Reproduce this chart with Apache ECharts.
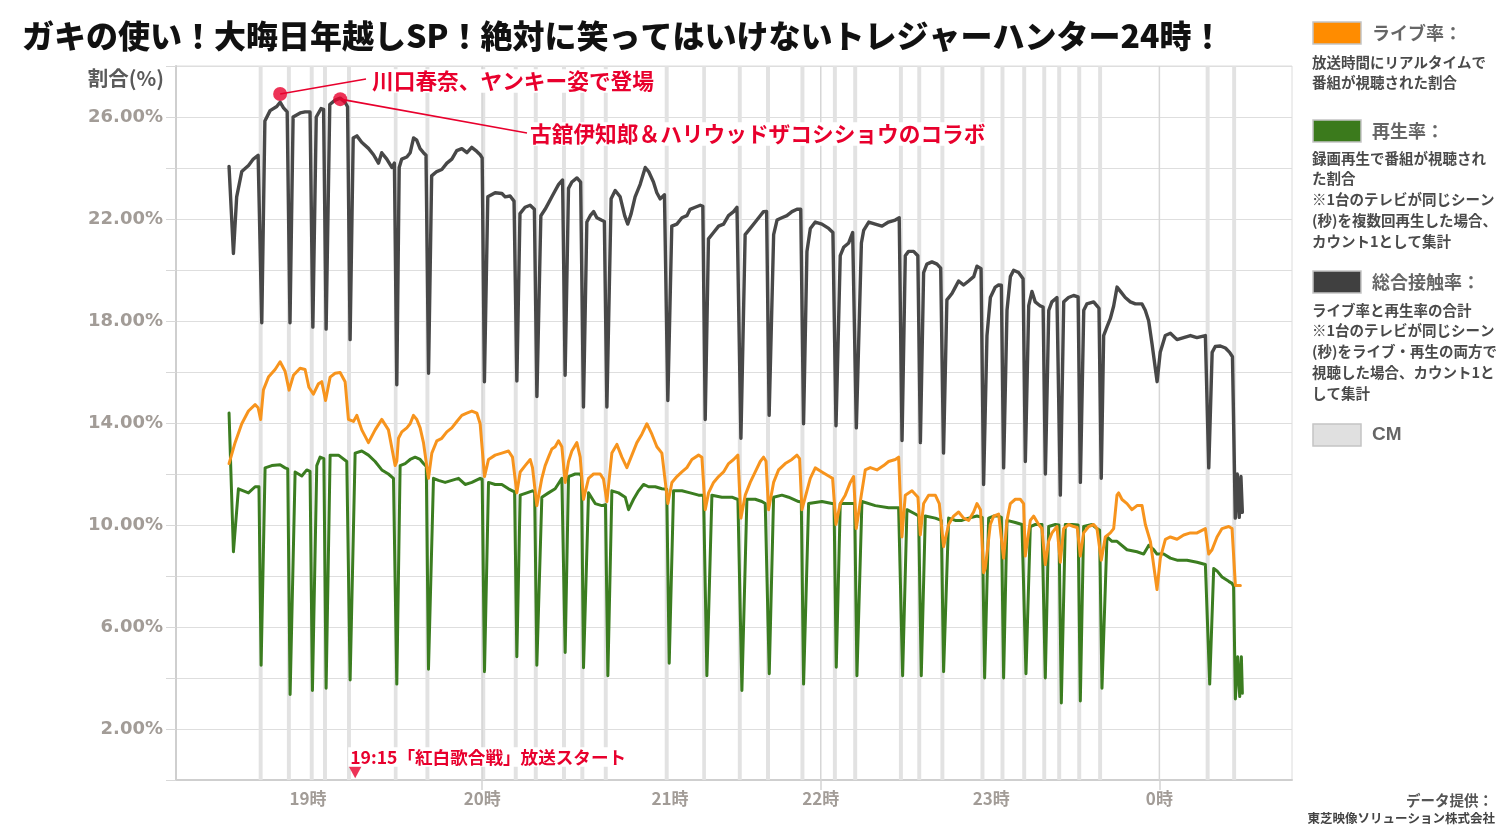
<!DOCTYPE html>
<html>
<head>
<meta charset="utf-8">
<script src="https://cdn.jsdelivr.net/npm/echarts@6.0.0/dist/echarts.min.js"></script>
<style>
html,body{margin:0;padding:0;background:#fff;}
#chart{width:1500px;height:831px;}
</style>
</head>
<body>
<div id="chart"></div>
<script>
// Time axis: minutes after 18:00. Values: rate in %.
const totalRate = [
[30.3,24.06],[31.85,20.65],[33.0,22.87],[34.8,23.86],[37.2,24.1],[38.9,24.35],[40.6,24.5],
[41.9,17.93],[43.0,25.84],[44.85,26.25],[47.2,26.41],[48.4,26.58],[49.6,26.36],[50.9,26.2],
[51.9,17.93],[53.0,26.0],[55.5,26.16],[57.25,26.2],[59.0,26.2],
[60.0,17.76],[61.2,26.0],[62.9,26.33],[63.8,26.3],
[64.7,17.68],[66.0,26.49],[67.9,26.66],[69.7,26.74],[71.4,26.58],[72.3,26.4],
[73.2,17.27],[74.3,25.18],[75.6,25.26],[77.3,25.01],[79.7,24.77],[81.5,24.52],[83.25,24.19],[84.4,24.6],[86.2,24.35],[88.0,24.02],[88.9,24.19],
[89.75,15.5],[90.6,24.02],[91.5,24.35],[93.3,24.43],[94.5,24.6],[95.7,25.18],[96.8,25.09],[98.0,24.76],[99.2,24.6],[100.1,24.5],
[101.0,15.95],[102.1,23.69],[103.9,23.86],[105.7,23.94],[107.5,24.19],[109.25,24.35],[111.0,24.68],[112.8,24.76],[114.6,24.6],[116.3,24.81],[118.1,24.65],[119.3,24.52],[120.0,24.4],
[120.8,15.62],[122.0,22.87],[124.6,23.03],[127.0,23.0],[128.15,22.87],[129.9,22.9],[131.3,22.7],
[132.3,15.65],[133.4,22.21],[135.2,22.46],[137.0,22.54],[138.5,22.38],
[139.4,15.04],[140.8,22.13],[142.3,22.38],[143.5,22.62],[144.7,22.87],[145.9,23.12],[147.1,23.36],[148.5,23.53],
[149.4,15.87],[150.6,23.2],[151.8,23.45],[153.6,23.61],[154.9,23.45],
[155.9,14.63],[157.1,21.88],[158.3,22.13],[159.5,22.29],[160.65,22.05],[162.2,21.96],[163.3,21.9],
[164.2,14.63],[165.7,22.79],[167.15,23.12],[168.9,22.87],[170.5,22.13],[171.6,21.8],[172.8,22.21],[174.2,22.87],[176.0,23.36],[177.8,24.02],[179.0,23.86],[180.7,23.45],[181.9,23.03],[183.1,22.79],[184.6,22.95],
[185.8,14.88],[187.2,21.72],[189.0,21.8],[190.8,22.05],[192.55,22.13],[193.7,22.38],[195.5,22.46],[197.3,22.54],[198.2,22.5],
[199.05,14.14],[200.2,21.22],[202.0,21.47],[203.8,21.72],[205.55,21.8],[207.3,22.13],[209.1,22.29],[210.3,22.46],[210.9,22.4],
[211.7,13.4],[213.2,21.39],[215.0,21.63],[216.8,21.88],[218.55,22.13],[219.7,22.29],[220.8,22.3],
[221.7,14.3],[223.3,21.39],[224.5,21.96],[226.2,22.05],[228.0,22.13],[229.8,22.29],[231.55,22.38],[232.9,22.38],
[233.9,13.97],[235.1,20.73],[236.3,21.63],[238.05,21.88],[240.4,21.8],[242.8,21.63],[244.3,21.47],
[245.4,13.89],[246.9,20.56],[248.1,20.89],[249.9,21.06],[251.3,21.47],[251.8,21.4],
[252.6,13.81],[254.4,21.06],[255.2,21.55],[257.0,21.88],[259.3,21.8],[261.7,21.72],[264.0,21.88],[266.4,21.96],[267.8,22.05],
[268.8,13.31],[269.95,20.56],[271.1,20.73],[272.9,20.73],[274.4,20.56],
[275.3,13.23],[276.45,19.9],[277.6,20.23],[279.4,20.32],[281.2,20.23],[282.5,20.07],
[283.5,12.82],[284.7,18.83],[286.5,19.08],[287.7,19.33],[288.85,19.57],[290.6,19.41],[292.4,19.57],[294.2,19.74],[295.35,20.15],[296.8,20.05],
[297.7,11.59],[298.9,17.43],[300.1,18.92],[301.85,19.33],[303.0,19.41],[304.0,19.4],
[304.8,12.24],[306.0,18.42],[307.2,19.74],[308.35,19.99],[310.1,19.9],[311.7,19.66],
[312.5,12.49],[313.7,18.6],[314.85,19.16],[316.0,18.75],[317.8,18.59],[318.8,18.55],
[319.6,12.0],[320.8,18.42],[321.9,18.75],[323.7,18.92],[324.2,18.9],
[324.9,11.17],[326.1,18.75],[327.8,18.92],[329.6,19.0],[331.2,18.95],
[332.0,11.67],[333.2,18.42],[334.3,18.67],[336.7,18.75],[337.9,18.59],[338.6,18.5],
[339.4,11.83],[340.25,17.43],[341.4,17.76],[342.6,18.09],[343.8,18.59],[345.0,19.33],[346.2,19.16],[347.9,18.92],[349.7,18.75],[351.5,18.67],[353.85,18.67],[355.0,18.42],[356.2,18.01],[357.4,17.1],
[359.2,15.62],[360.3,16.77],[362.1,17.43],[363.9,17.52],[366.25,17.27],[368.6,17.35],[371.0,17.43],[373.3,17.35],[376.3,17.43],[376.9,17.4],
[377.5,12.24],[378.7,16.77],[379.8,17.0],[381.6,17.02],[383.4,16.94],[384.9,16.77],[385.9,16.6],
[386.9,10.27],[387.6,12.0],[388.3,10.3],[388.9,11.9],[389.4,10.5]
];

const liveRate = [
[30.3,12.41],[32.44,13.23],[34.8,13.97],[37.17,14.47],[39.53,14.72],[40.6,14.6],[41.5,14.14],[42.48,15.3],[44.26,15.8],[46.62,16.1],[48.39,16.4],[50.16,16.03],[51.58,15.29],[53.12,15.87],[55.48,16.15],[57.25,16.1],[58.6,15.4],[60.2,15.13],[61.98,15.54],[63.16,15.62],[64.5,14.88],[66.12,15.8],[67.89,15.95],[69.66,15.98],[71.43,15.62],[72.61,14.14],[74.39,14.06],[75.57,14.3],[77.34,13.73],[79.7,13.23],[82.07,13.73],[84.43,14.14],[86.79,13.73],[89.16,12.33],
[89.75,12.5],[90.34,13.4],[91.52,13.65],[93.3,13.81],[94.48,13.97],[95.66,14.3],[96.84,14.14],[98.02,13.81],[99.2,13.23],[100.98,11.83],[102.16,12.82],[103.93,13.3],[105.7,13.4],[107.47,13.65],[109.25,13.81],[111.02,14.06],[112.79,14.3],[114.56,14.39],[116.34,14.47],[118.11,14.39],[119.29,13.97],[120.83,11.9],[122.25,12.57],[124.61,12.74],[126.97,12.82],[129.33,12.9],[130.75,12.66],[132.29,11.26],[133.47,12.08],[135.24,12.33],[137.02,12.57],[137.84,12.25],[139.38,10.76],[141.15,11.83],[142.33,12.33],[143.51,12.66],[144.7,12.98],[145.88,13.07],[147.06,13.3],[148.24,13.07],[149.42,11.67],[150.6,12.49],[151.79,12.9],[153.56,13.23],[154.74,12.66],[155.92,11.0],
[157.7,11.83],[159.47,12.0],[161.83,12.0],[163.0,11.8],[164.2,10.92],[165.97,12.82],[167.74,13.16],[169.51,12.66],[171.28,12.25],[173.06,12.74],[174.83,13.23],[176.6,13.56],[178.37,13.97],[180.15,13.56],[181.92,13.07],[183.69,12.82],[185.82,10.84],[187.24,11.67],[189.01,11.9],[190.78,12.08],[192.55,12.25],[194.33,12.57],[196.69,12.74],[197.87,12.66],[199.05,10.6],[200.23,11.26],[202.01,11.67],[203.78,11.9],[205.55,12.08],[207.33,12.41],[209.1,12.57],[210.63,12.74],[211.7,10.27],[213.23,11.17],[215.0,11.67],[216.78,12.08],[218.55,12.49],[219.73,12.66],[220.6,12.5],
[221.51,10.6],[223.28,11.67],[225.05,12.16],[227.41,12.41],[229.78,12.57],[231.55,12.74],[232.5,12.6],[233.32,10.6],[235.1,11.34],[236.28,11.83],[238.05,12.24],[240.41,12.08],[242.78,11.92],[244.19,11.83],[245.38,10.02],[246.91,10.84],[248.68,11.17],[250.46,11.67],[251.64,11.9],[252.58,9.86],[254.36,11.17],[255.77,12.16],[257.55,12.25],[259.91,12.16],[262.27,12.33],[264.04,12.49],[266.41,12.57],[267.59,12.66],[268.77,9.53],[269.95,11.17],[272.32,11.34],[274.44,11.09],[275.27,9.61],[276.45,10.84],[278.22,11.17],[280.59,11.17],[282.0,10.84],
[283.53,9.15],[285.31,10.02],[287.08,10.35],[288.85,10.51],[290.62,10.27],[292.4,10.18],[294.17,10.51],[295.35,10.84],[296.6,10.6],[297.71,8.13],[298.3,8.3],[300.08,10.02],[301.26,10.35],[303.03,10.43],[304.8,8.7],[305.99,10.18],[307.17,10.84],[308.94,11.01],[310.71,11.01],[311.89,10.84],[312.48,8.78],[314.26,10.18],[315.44,10.35],[317.21,10.02],[318.39,9.86],[319.57,8.45],[320.76,9.36],[321.94,9.69],[323.71,9.94],[324.89,8.54],[326.07,9.86],[327.84,10.02],[329.62,9.94],[330.9,9.9],[331.98,8.78],[333.16,9.69],[334.94,9.94],[336.71,10.02],[337.89,9.86],[339.42,8.62],[340.84,9.53],[342.61,9.69],[343.8,9.86],[344.98,11.17],
[345.57,11.26],[346.76,11.0],[348.53,10.84],[350.3,10.6],[352.07,10.76],[353.85,10.76],[355.03,10.02],[356.8,9.36],[359.16,7.47],[360.34,8.7],[362.12,9.44],[363.89,9.53],[366.25,9.44],[368.62,9.61],[370.98,9.69],[373.34,9.69],[376.3,9.86],[377.48,8.86],[378.66,9.03],[380.43,9.53],[382.2,9.86],[384.57,9.94],[385.75,9.86],[386.93,7.63],[388.7,7.63]
];

const playRate = [
[30.3,14.39],[31.85,8.95],[33.62,11.42],[35.39,11.34],[37.17,11.26],[39.53,11.5],[40.9,11.5],[41.66,4.5],[43.07,12.24],[45.44,12.33],[48.39,12.36],[50.16,12.24],[51.1,12.2],[51.94,3.35],[53.71,12.08],[56.07,11.92],[57.84,12.16],[59.0,12.1],[59.85,3.51],[61.39,12.33],[62.57,12.66],[63.9,12.6],[64.7,3.6],[66.12,12.74],[69.07,12.74],[72.02,12.49],[72.5,12.45],[73.21,3.92],[74.98,12.82],[77.34,12.9],[79.7,12.74],[82.07,12.49],[84.43,12.16],[86.79,12.0],[88.57,11.83],[89.75,3.76],
[90.93,12.33],[92.7,12.41],[94.48,12.57],[96.25,12.66],[98.02,12.57],[99.2,12.41],[100.2,12.3],[100.98,4.34],[102.75,11.83],[104.52,11.75],[106.88,11.67],[109.25,11.75],[111.61,11.83],[113.97,11.59],[116.34,11.67],[119.29,11.83],[120.0,11.8],[120.83,4.25],[122.25,11.67],[124.61,11.59],[126.97,11.59],[129.33,11.42],[130.75,11.34],[131.5,11.3],[132.29,4.83],[133.47,11.17],[135.83,11.26],[137.84,11.34],[138.6,11.3],[139.38,4.5],[141.15,11.09],[143.51,11.26],[145.88,11.42],[148.24,11.83],[148.7,11.8],[149.42,5.0],[150.6,11.9],[152.97,12.0],[154.74,12.0],[155.2,11.9],[155.92,4.4],
[157.7,11.26],[160.06,10.84],[162.42,10.76],[163.7,10.8],[164.55,4.09],[165.97,11.34],[168.33,11.26],[170.7,11.09],[171.88,10.6],[173.65,11.01],[175.42,11.34],[177.19,11.59],[178.97,11.5],[181.33,11.5],[183.69,11.42],[185.4,11.4],[186.29,4.58],[187.83,11.34],[190.78,11.34],[193.74,11.26],[196.69,11.17],[198.46,11.17],[198.9,11.15],[199.64,4.09],[201.42,11.17],[204.96,11.09],[208.51,11.09],[210.63,11.0],[211.3,11.0],[212.05,3.51],[213.82,11.01],[216.78,11.01],[219.14,10.92],[220.32,10.84],[221.0,10.84],
[221.74,4.17],[223.28,11.09],[226.23,11.17],[228.6,11.09],[232.14,10.92],[233.1,10.9],[233.91,3.76],[235.69,10.84],[240.41,10.92],[243.96,10.84],[244.7,10.84],[245.49,4.42],[246.91,10.84],[251.05,10.84],[252.0,10.84],[252.82,4.09],[254.59,10.92],[259.32,10.76],[264.04,10.68],[267.59,10.68],[268.2,10.65],[269.01,4.09],[270.54,10.6],[273.5,10.43],[274.68,10.35],[275.62,4.09],[277.04,10.35],[280.59,10.27],[282.7,10.18],
[283.53,4.25],[285.31,10.27],[287.67,10.18],[290.03,10.18],[292.4,10.27],[295.35,10.35],[297.2,10.3],[298.07,4.0],[299.49,10.27],[301.26,10.35],[303.03,10.35],[304.0,10.3],[304.8,4.0],[305.99,10.18],[308.94,10.1],[311.3,10.02],[312.0,10.0],[312.72,4.17],[314.26,9.94],[316.03,10.02],[318.39,10.02],[318.9,10.0],[319.57,4.0],[320.76,9.94],[323.12,10.02],[324.4,10.0],[325.25,3.02],[326.66,10.02],[329.03,10.02],[331.2,10.0],[331.98,3.1],[333.16,9.94],[336.12,10.02],[337.89,9.86],[338.8,9.8],[339.66,3.6],[341.43,9.53],[343.21,9.36],[344.98,9.36],
[348.53,9.03],[352.07,8.95],[354.44,8.86],[356.21,9.2],[357.98,9.03],[359.16,8.86],[361.53,8.86],[363.89,8.7],[366.25,8.62],[369.8,8.62],[373.34,8.54],[376.3,8.45],[377.0,8.4],[377.83,3.76],[379.25,8.29],[380.43,8.2],[382.2,7.96],[384.57,7.79],[385.75,7.71],[386.3,7.6],[386.93,3.18],[387.76,4.83],[388.47,3.27],[389.06,4.83],[389.41,3.4]
];

// CM periods [start, end] in minutes after 18:00
const cmPeriods = [
[40.8,42.2],[50.8,52.2],[58.9,60.3],[63.6,65.0],[72.1,73.5],[88.7,90.0],[99.9,101.3],[119.7,121.1],
[131.2,132.6],[138.3,139.7],[148.3,149.7],[154.8,156.2],[163.1,164.5],[184.7,186.1],[198.0,199.3],
[210.6,212.0],[220.6,222.0],[232.8,234.2],[244.3,245.7],[251.5,252.9],[267.7,269.1],[274.2,275.6],
[282.4,283.8],[296.6,298.0],[303.7,305.1],[311.4,312.8],[318.5,319.9],[323.8,325.2],[330.9,332.3],
[338.3,339.7],[376.4,377.8],[385.8,387.2]
];

const hourGridPos = [120, 240, 360];
const hourLabelPos = [58.3, 120, 186.6, 240, 300.4, 360];
const hourLabels = ['19時', '20時', '21時', '22時', '23時', '0時'];
const yTickLabelValues = [2, 6, 10, 14, 18, 22, 26];

const highlightPts = [[48.4, 26.9], [69.7, 26.7]];
const highlightTexts = ['川口春奈、ヤンキー姿で登場', '古舘伊知郎＆ハリウッドザコシショウのコラボ'];
const kohakuStart = [[75, 0.3]];
const kohakuText = '19:15「紅白歌合戦」放送スタート';

const titleText = 'ガキの使い！大晦日年越しSP！絶対に笑ってはいけないトレジャーハンター24時！';

const JP = '"Noto Sans CJK JP","Noto Sans",sans-serif';
const RED = '#e8002d';
const AXIS_GRAY = '#a29c97';

const chart = echarts.init(document.getElementById('chart'), null, {renderer: 'canvas'});

const option = {
  animation: false,
  backgroundColor: '#fff',
  title: {
    text: titleText, left: 17, top: 15,
    textStyle: {fontSize: 32, fontWeight: 900, color: '#111', fontFamily: JP}
  },
  grid: {left: 176, right: 208, top: 66, bottom: 51, show: true, borderColor: '#dcdcdc', borderWidth: 1},
  xAxis: {
    type: 'value', min: 11.5, max: 407,
    axisLine: {show: true, onZero: false, lineStyle: {color: '#cfcfcf', width: 2}},
    axisTick: {show: true, customValues: hourGridPos, length: 10, lineStyle: {color: '#d3d3d3', width: 1.5}},
    axisLabel: {
      customValues: hourLabelPos, margin: 10, color: AXIS_GRAY, fontSize: 17, fontWeight: 'bold', fontFamily: JP,
      formatter: function (v) {
        let best = 0;
        hourLabelPos.forEach(function (p, i) { if (Math.abs(p - v) < Math.abs(hourLabelPos[best] - v)) best = i; });
        return hourLabels[best];
      }
    },
    splitLine: {show: false}
  },
  yAxis: {
    type: 'value', min: 0, max: 28, interval: 2,
    axisLine: {show: true, lineStyle: {color: '#cfcfcf', width: 2}},
    axisTick: {show: true, length: 10, lineStyle: {color: '#d8d8d8'}},
    axisLabel: {
      margin: 13, color: AXIS_GRAY, fontSize: 18, fontWeight: 'bold', fontFamily: '"DejaVu Sans",sans-serif',
      formatter: function (v) { return yTickLabelValues.indexOf(v) >= 0 ? v.toFixed(2) + '%' : ''; }
    },
    splitLine: {show: true, lineStyle: {color: '#dedede', width: 1}}
  },
  series: [
    {
      name: 'CM', type: 'custom', z: 1, silent: true,
      data: cmPeriods,
      encode: {x: [0, 1]},
      renderItem: function (params, api) {
        const p0 = api.coord([api.value(0), 28]);
        const p1 = api.coord([api.value(1), 0]);
        return {type: 'rect', shape: {x: p0[0], y: p0[1], width: p1[0] - p0[0], height: p1[1] - p0[1]},
                style: {fill: '#e2e2e2'}};
      }
    },
    {
      name: 'hourGrid', type: 'custom', z: 1, silent: true,
      data: hourGridPos.map(function (h) { return [h]; }),
      encode: {x: 0},
      renderItem: function (params, api) {
        const p0 = api.coord([api.value(0), 28]);
        const p1 = api.coord([api.value(0), 0]);
        return {type: 'line', shape: {x1: p0[0], y1: p0[1], x2: p1[0], y2: p1[1]},
                style: {stroke: '#d6d6d6', lineWidth: 1.5}};
      }
    },
    {
      name: '再生率', type: 'line', data: playRate, showSymbol: false, symbol: 'none', z: 3,
      lineStyle: {color: '#3b7d20', width: 3, join: 'round', cap: 'round'}
    },
    {
      name: 'ライブ率', type: 'line', data: liveRate, showSymbol: false, symbol: 'none', z: 4,
      lineStyle: {color: '#f7941d', width: 3, join: 'round', cap: 'round'}
    },
    {
      name: '総合接触率', type: 'line', data: totalRate, showSymbol: false, symbol: 'none', z: 5,
      lineStyle: {color: '#484848', width: 3.4, join: 'round', cap: 'round'}
    },
    {
      name: 'highlight', type: 'scatter', data: highlightPts, symbolSize: 14, z: 10,
      itemStyle: {color: RED}
    },
    {
      name: 'kohaku', type: 'scatter', data: kohakuStart, symbol: 'triangle', symbolRotate: 180, symbolSize: [13, 12], z: 10,
      itemStyle: {color: RED}
    }
  ]
};
chart.setOption(option);

// Annotation lines / texts and legend panel
const p1 = chart.convertToPixel({gridIndex: 0}, highlightPts[0]);
const p2 = chart.convertToPixel({gridIndex: 0}, highlightPts[1]);
const kp = chart.convertToPixel({gridIndex: 0}, kohakuStart[0]);

const g = [];
function txt(text, x, y, size, color, opts) {
  opts = opts || {};
  g.push({type: 'text', z: opts.z || 50, style: Object.assign({
    text: text, x: x, y: y, fill: color, fontSize: size, fontWeight: 'bold', fontFamily: JP,
    align: 'left', verticalAlign: 'middle'
  }, opts.style || {})});
}
g.push({type: 'line', z: 40, shape: {x1: p1[0], y1: p1[1], x2: 366, y2: 79}, style: {stroke: RED, lineWidth: 1.6}});
g.push({type: 'line', z: 40, shape: {x1: p2[0], y1: p2[1], x2: 527, y2: 133}, style: {stroke: RED, lineWidth: 1.6}});
txt(highlightTexts[0], 370, 81, 21.7, RED, {style: {backgroundColor: '#fff', padding: [1, 2]}});
txt(highlightTexts[1], 528, 134, 21.7, RED, {style: {backgroundColor: '#fff', padding: [1, 2]}});
txt(kohakuText, kp[0] - 7, 757, 17.6, RED, {style: {backgroundColor: '#fff', padding: [1, 2]}});

// y axis name
txt('割合(%)', 164, 78, 20.5, '#5a5a5a', {style: {align: 'right'}});

// Legend panel
const legendItems = [
  {color: '#ff8c00', y: 33, label: 'ライブ率：', desc: ['放送時間にリアルタイムで', '番組が視聴された割合'], descY: 62},
  {color: '#3b7a1c', y: 131, label: '再生率：', desc: ['録画再生で番組が視聴され', 'た割合', '※1台のテレビが同じシーン', '(秒)を複数回再生した場合、', 'カウント1として集計'], descY: 158},
  {color: '#404040', y: 282, label: '総合接触率：', desc: ['ライブ率と再生率の合計', '※1台のテレビが同じシーン', '(秒)をライブ・再生の両方で', '視聴した場合、カウント1と', 'して集計'], descY: 310},
  {color: '#e0e0e0', y: 435, label: 'CM', desc: [], descY: 0}
];
legendItems.forEach(function (it) {
  g.push({type: 'rect', z: 50, shape: {x: 1313, y: it.y - 11, width: 48, height: 22},
          style: {fill: it.color, stroke: '#c4c4c4', lineWidth: 1.5}});
  txt(it.label, 1372, it.y, 18, '#666', {style: it.label === 'CM' ? {fontFamily: '"Liberation Sans",Arial,sans-serif', fontSize: 19} : {}});
  it.desc.forEach(function (d, i) {
    txt(d, 1312, it.descY + i * 20.8, 14.5, '#4a4a4a');
  });
});

// Source
txt('データ提供：', 1493, 800, 14.5, '#555', {style: {align: 'right'}});
txt('東芝映像ソリューション株式会社', 1495, 818, 12.5, '#444', {style: {align: 'right'}});

chart.setOption({graphic: g});
</script>
</body>
</html>
